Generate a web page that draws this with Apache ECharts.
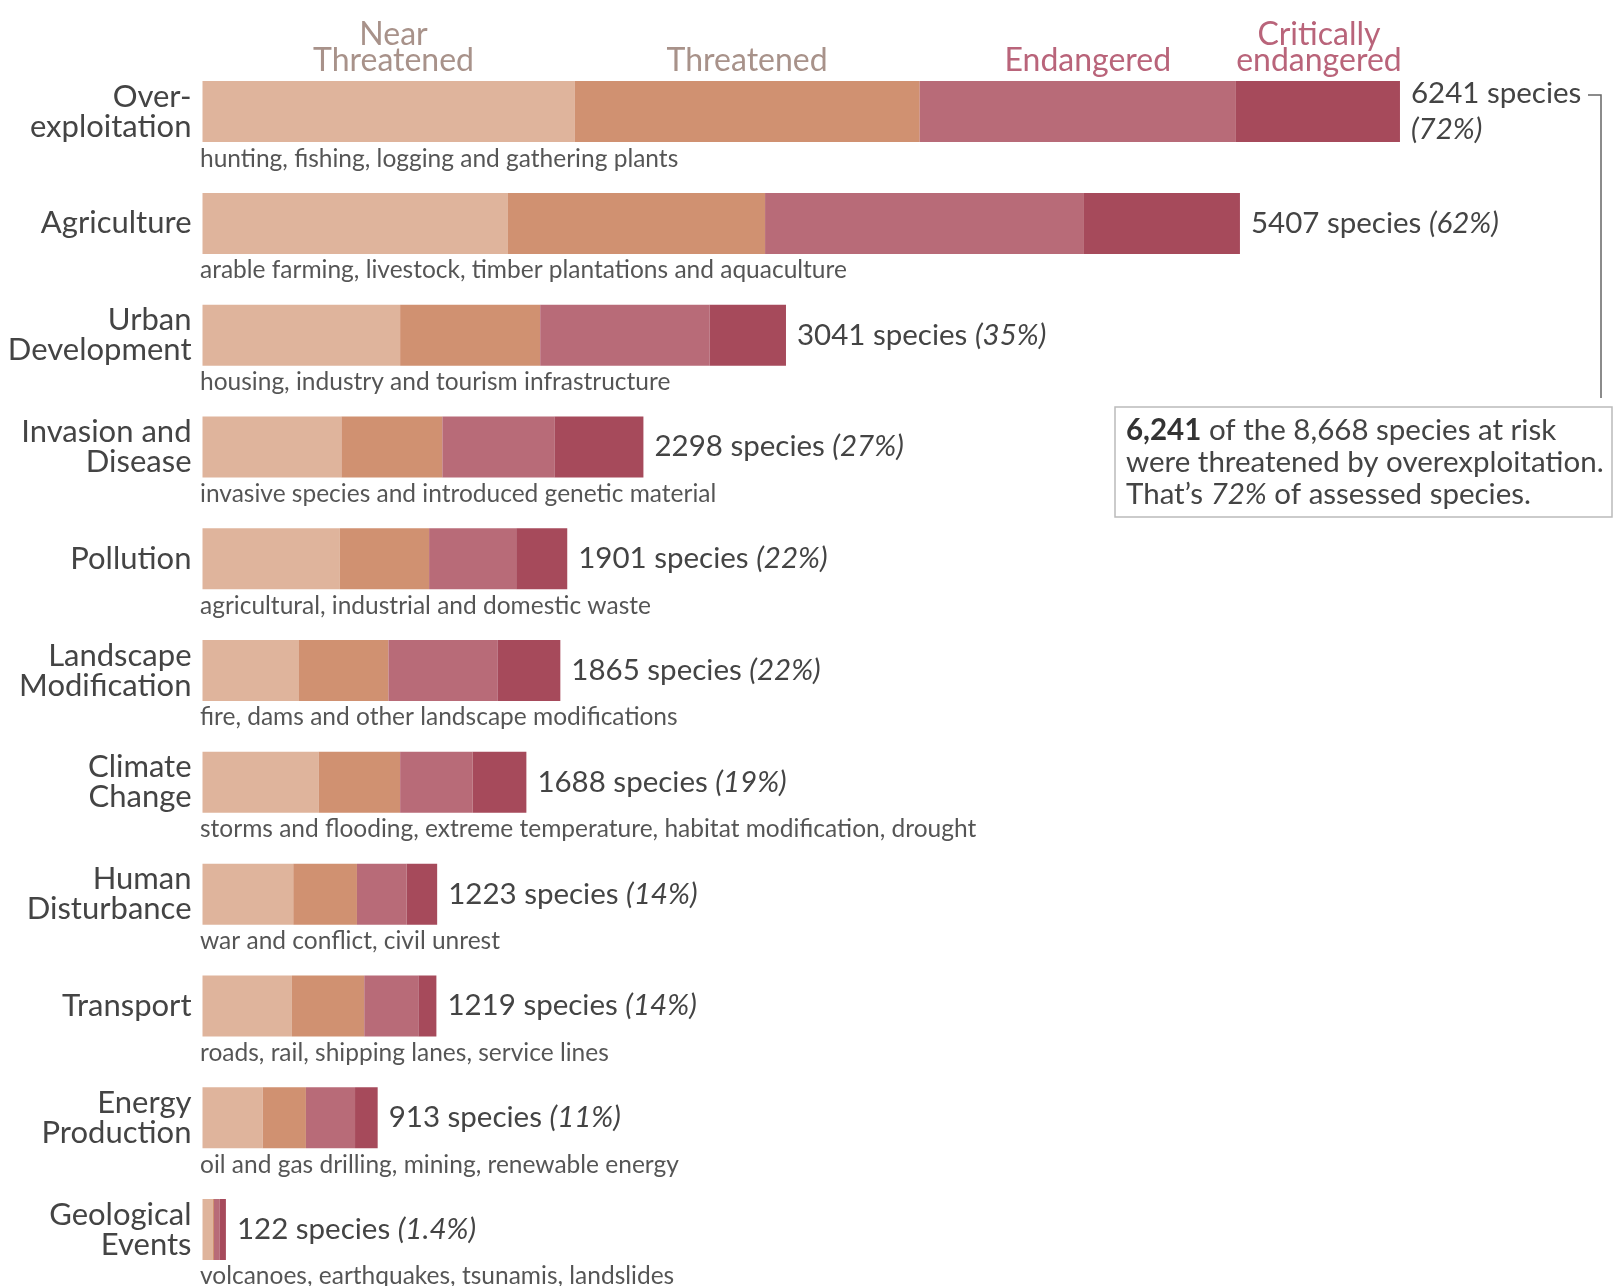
<!DOCTYPE html>
<html>
<head>
<meta charset="utf-8">
<script src="https://cdn.jsdelivr.net/npm/echarts@6/dist/echarts.min.js"></script>
<style>
  html, body { margin: 0; padding: 0; background: #ffffff; }
  #chart { width: 1620px; height: 1286px; }
</style>
</head>
<body>
<div id="chart"></div>
<script>
// Threats to species at risk, split by IUCN threat status
const categories = [
  'Over-\nexploitation', 'Agriculture', 'Urban\nDevelopment', 'Invasion and\nDisease',
  'Pollution', 'Landscape\nModification', 'Climate\nChange', 'Human\nDisturbance',
  'Transport', 'Energy\nProduction', 'Geological\nEvents'
];
const threatDetails = [
  'hunting, fishing, logging and gathering plants',
  'arable farming, livestock, timber plantations and aquaculture',
  'housing, industry and tourism infrastructure',
  'invasive species and introduced genetic material',
  'agricultural, industrial and domestic waste',
  'fire, dams and other landscape modifications',
  'storms and flooding, extreme temperature, habitat modification, drought',
  'war and conflict, civil unrest',
  'roads, rail, shipping lanes, service lines',
  'oil and gas drilling, mining, renewable energy',
  'volcanoes, earthquakes, tsunamis, landslides'
];
const statusNames = ['Near\nThreatened', 'Threatened', 'Endangered', 'Critically\nendangered'];
const nearThreatened       = [1939, 1592, 1030, 724, 716, 503, 605, 473, 466, 314, 52];
const threatened           = [1799, 1340,  730, 526, 465, 466, 425, 332, 377, 225,  8];
const endangered           = [1648, 1662,  883, 584, 454, 568, 378, 259, 282, 256, 30];
const criticallyEndangered = [ 855,  813,  398, 464, 266, 328, 280, 159,  94, 118, 32];
const percentLabels = ['72%', '62%', '35%', '27%', '22%', '22%', '19%', '14%', '14%', '11%', '1.4%'];

const FONT = 'Lato, "Open Sans", sans-serif';
const segmentColors = ['#dfb49c', '#d09171', '#b86b78', '#a64a5b'];
const headerColors = ['#a8928a', '#a8928a', '#b9647a', '#b9647a'];
const headerShift = [5, 0, 10, 1];

const segments = [nearThreatened, threatened, endangered, criticallyEndangered];
const totals = categories.map((_, i) => segments.reduce((s, arr) => s + arr[i], 0));

const barSeries = segments.map((values, k) => ({
  type: 'bar',
  name: statusNames[k].replace('\n', ' '),
  stack: 'status',
  barWidth: 61,
  itemStyle: { color: segmentColors[k] },
  data: values.map((v, i) => i === 0 ? {
    value: v,
    label: {
      show: true,
      position: 'top',
      distance: 7,
      offset: [headerShift[k], 0],
      formatter: statusNames[k],
      fontFamily: FONT,
      fontSize: 32,
      lineHeight: 26,
      color: headerColors[k],
      align: 'center'
    }
  } : v)
}));

// zero-length cap on each stack, carrying the total label
const totalSeries = {
  type: 'bar',
  stack: 'status',
  barWidth: 61,
  itemStyle: { color: 'transparent' },
  data: totals.map(() => 0),
  label: {
    show: true,
    position: 'right',
    distance: 11,
    formatter: p => {
      const i = p.dataIndex;
      const head = i === 0 ? '{n|' + totals[i] + ' species}\n' : '{n|' + totals[i] + ' species }';
      return head + '{p|(' + percentLabels[i] + ')}';
    },
    rich: {
      n: { fontFamily: FONT, fontSize: 29.5, color: '#444', lineHeight: 36 },
      p: { fontFamily: FONT, fontSize: 29.5, color: '#444', fontStyle: 'italic', lineHeight: 36 }
    }
  }
};

// threat descriptions written just under each bar
const detailSeries = {
  type: 'scatter',
  symbolSize: 1,
  itemStyle: { color: 'rgba(0,0,0,0)' },
  data: categories.map((_, i) => [0, i]),
  label: {
    show: true,
    position: 'right',
    distance: 0,
    offset: [-3, 47],
    formatter: p => threatDetails[p.dataIndex],
    fontFamily: FONT,
    fontSize: 24.5,
    color: '#2a2a2a'
  }
};

const chart = echarts.init(document.getElementById('chart'));
chart.setOption({
  animation: false,
  backgroundColor: '#ffffff',
  grid: { left: 202.5, right: 74.4, top: 55.7, bottom: 0.6 },
  xAxis: {
    type: 'value', min: 0, max: 7000,
    show: false
  },
  yAxis: {
    type: 'category',
    data: categories,
    inverse: true,
    axisLine: { show: false },
    axisTick: { show: false },
    axisLabel: {
      fontFamily: FONT, fontSize: 31, lineHeight: 30, color: '#444',
      margin: 11, align: 'right'
    }
  },
  series: [...barSeries, totalSeries, detailSeries],
  graphic: [
    {
      type: 'polyline',
      shape: { points: [[1588, 95], [1601, 95], [1601, 398]] },
      style: { stroke: '#666', lineWidth: 1.5, fill: null }
    },
    {
      type: 'rect',
      shape: { x: 1115, y: 407, width: 497, height: 110 },
      style: { stroke: '#bbbbbb', lineWidth: 1.5, fill: '#ffffff' }
    },
    {
      type: 'text',
      x: 1126, y: 414,
      style: {
        text: '{b|6,241} of the 8,668 species at risk\nwere threatened by overexploitation.\nThat\u2019s {i|72%} of assessed species.',
        fontFamily: FONT, fontSize: 29.5, lineHeight: 32, fill: '#444',
        rich: {
          b: { fontFamily: FONT, fontSize: 29.5, lineHeight: 32, fontWeight: 'bold', fill: '#333' },
          i: { fontFamily: FONT, fontSize: 29.5, lineHeight: 32, fontStyle: 'italic', fill: '#444' }
        }
      }
    }
  ]
});
</script>
</body>
</html>
